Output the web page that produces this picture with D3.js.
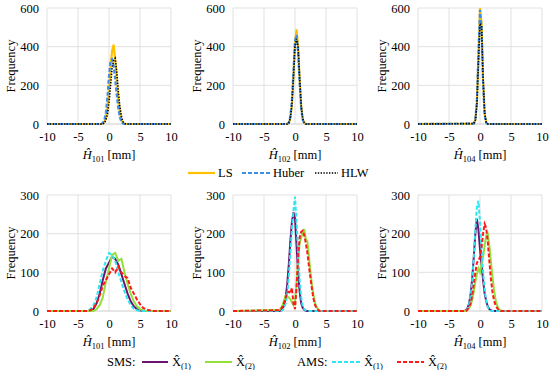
<!DOCTYPE html>
<html>
<head>
<meta charset="utf-8">
<script src="https://cdn.jsdelivr.net/npm/d3@7"></script>
<style>
  body { margin: 0; background: #fff; }
  svg text { font-family: "Liberation Serif", serif; fill: #000; }
</style>
</head>
<body>
<svg id="viz" width="550" height="370"></svg>
<script>
// ---- data ----
const topX1 = [-10,-1.5,-1.25,-1,-0.75,-0.5,-0.25,0,0.25,0.5,0.75,1,1.25,1.5,1.75,2,2.25,2.5,2.75,10]
const topLS1    = [0,0,0,2,10,30,80,170,290,380,410,330,230,130,60,20,5,0,0,0]
const topHuber1 = [0,0,0,5,20,60,140,250,330,335,300,230,150,80,35,10,2,0,0,0]
const topHLW1   = [0,0,0,0,5,20,50,110,200,290,330,340,270,170,90,40,12,3,0,0]

const topX2 = [-10,-1.25,-1,-0.75,-0.5,-0.25,0,0.25,0.5,0.75,1,1.25,1.5,1.75,10]
const topLS2    = [0,0,5,30,100,250,420,490,400,230,90,25,5,0,0]
const topHuber2 = [0,0,8,40,120,270,430,460,370,210,80,20,4,0,0]
const topHLW2   = [0,0,5,30,100,240,400,440,400,240,95,28,6,0,0]

const topX3 = [-10,-1,-0.75,-0.5,-0.25,0,0.25,0.5,0.75,1,1.25,10]
const topLS3    = [0,2,20,110,350,600,520,220,50,8,0,0]
const topHuber3 = [0,2,25,120,370,590,500,210,45,6,0,0]
const topHLW3   = [0,2,20,100,320,520,510,240,60,10,0,0]

const botX1 = [-10,-3.5,-3,-2.5,-2,-1.5,-1,-0.5,0,0.5,1,1.5,2,2.5,3,3.5,4,4.5,5,5.5,6,6.5,7,10]
const smsA1 = [0,0,0,5,20,45,80,110,125,140,135,120,95,70,45,25,12,5,2,0,0,0,0,0]
const smsB1 = [0,0,0,0,5,15,35,75,110,145,150,130,135,100,70,45,25,12,5,2,0,0,0,0]
const amsA1 = [0,0,5,15,35,70,105,130,150,145,130,100,75,50,30,15,6,2,0,0,0,0,0,0]
const amsB1 = [0,0,2,8,20,40,65,80,95,110,100,115,100,90,85,60,45,30,18,8,4,2,0,0]

const botX2 = [-10,-2.5,-2.25,-2,-1.75,-1.5,-1.25,-1,-0.75,-0.5,-0.25,0,0.25,0.5,0.75,1,1.25,1.5,1.75,2,2.25,2.5,2.75,3,3.25,3.5,3.75,4,10]
const smsA2 = [0,0,2,6,15,35,70,120,180,230,255,240,170,100,50,20,8,3,0,0,0,0,0,0,0,0,0,0,0]
const smsB2 = [0,3,8,15,28,40,38,35,30,22,15,25,70,130,175,190,200,212,185,180,140,100,65,40,20,10,4,0,0]
const amsA2 = [0,0,0,2,8,20,45,90,150,210,260,295,230,150,80,35,12,4,1,0,0,0,0,0,0,0,0,0,0]
const amsB2 = [0,2,5,12,22,35,48,50,45,60,20,5,60,140,190,205,208,195,175,150,115,85,55,30,15,6,2,0,0]

const botX3 = botX2
const smsA3 = [0,0,2,8,20,45,85,140,200,238,210,160,120,80,45,25,12,5,2,0,0,0,0,0,0,0,0,0,0]
const smsB3 = [0,0,0,3,8,15,30,50,75,95,110,100,120,140,170,195,200,170,130,90,55,30,15,6,2,0,0,0,0]
const amsA3 = [0,0,2,6,18,40,80,140,210,270,285,230,160,100,55,25,10,4,1,0,0,0,0,0,0,0,0,0,0]
const amsB3 = [0,0,0,4,10,20,40,70,100,125,130,140,165,200,225,215,180,130,85,50,28,15,8,3,1,0,0,0,0]

const xTicks = [-10,-5,0,5,10]
const topYTicks = [0,200,400,600]
const botYTicks = [0,100,200,300]
const subs = ["101","102","104"]

const topStyles = [
  {name: "LS", color: "#FFC000", dash: null, w: 2.2},
  {name: "Huber", color: "#3D8FE6", dash: "4,2", w: 2.2},
  {name: "HLW", color: "#000", dash: "1.4,1.4", w: 1.6}
]
const botStyles = [
  {color: "#6B1470", dash: null, w: 2},
  {color: "#92E03C", dash: null, w: 2},
  {color: "#2EE6F0", dash: "4,2", w: 2},
  {color: "#FF1A1A", dash: "4,2", w: 2}
]

const svg = d3.select("svg#viz")
const lefts = [47, 233, 418]
const PW = 124, PH = 116

function panel(left, top, xs, series, styles, yTicks, sub) {
  const g = svg.append("g").attr("transform", `translate(${left},${top})`)
  const x = d3.scaleLinear().domain([-10, 10]).range([0, PW])
  const y = d3.scaleLinear().domain([0, yTicks[yTicks.length - 1]]).range([PH, 0])

  // grid
  g.append("g").selectAll("line.vg").data(xTicks).join("line")
    .attr("x1", d => x(d)).attr("x2", d => x(d)).attr("y1", 0).attr("y2", PH)
    .attr("stroke", "#d9d9d9").attr("stroke-width", 0.8)
  g.append("g").selectAll("line.hg").data(yTicks).join("line")
    .attr("x1", 0).attr("x2", PW).attr("y1", d => y(d)).attr("y2", d => y(d))
    .attr("stroke", d => d === 0 ? "#bfbfbf" : "#d9d9d9").attr("stroke-width", 0.8)

  const xa = g.append("g").attr("transform", `translate(0,${PH})`)
    .call(d3.axisBottom(x).tickValues(xTicks).tickFormat(d => String(d)).tickSize(0).tickPadding(8))
  xa.select(".domain").remove()
  const ya = g.append("g").call(d3.axisLeft(y).tickValues(yTicks).tickFormat(d => String(d)).tickSize(0).tickPadding(8))
  ya.select(".domain").remove()
  g.selectAll(".tick text").attr("font-size", 12.5).attr("font-family", "Liberation Serif")

  g.append("text").attr("transform", `translate(-36,${PH / 2}) rotate(-90)`)
    .attr("text-anchor", "middle").attr("dy", "0.35em").attr("font-size", 12.5).text("Frequency")

  const t = g.append("text").attr("x", PW / 2).attr("y", PH + 35)
    .attr("text-anchor", "middle").attr("font-size", 12.5)
  t.append("tspan").attr("font-style", "italic").text("Ĥ")
  t.append("tspan").attr("font-size", 8.5).attr("dy", 3).text(sub)
  t.append("tspan").attr("dy", -3).text(" [mm]")

  const line = d3.line().x(d => x(d[0])).y(d => y(d[1]))
  series.forEach((s, i) => {
    g.append("path").datum(xs.map((v, k) => [v, s[k]]))
      .attr("d", line).attr("fill", "none")
      .attr("stroke", styles[i].color).attr("stroke-width", styles[i].w)
      .attr("stroke-dasharray", styles[i].dash)
  })
}

const tops = [[topX1, [topLS1, topHuber1, topHLW1]], [topX2, [topLS2, topHuber2, topHLW2]], [topX3, [topLS3, topHuber3, topHLW3]]]
const bots = [[botX1, [smsA1, smsB1, amsA1, amsB1]], [botX2, [smsA2, smsB2, amsA2, amsB2]], [botX3, [smsA3, smsB3, amsA3, amsB3]]]
tops.forEach((p, i) => panel(lefts[i], 8, p[0], p[1], topStyles, topYTicks, subs[i]))
bots.forEach((p, i) => panel(lefts[i], 195, p[0], p[1], botStyles, botYTicks, subs[i]))

// top legend
const lg1 = svg.append("g")
const topLeg = [{x: 188, tx: 218}, {x: 242, tx: 273}, {x: 315, tx: 341}]
topLeg.forEach((p, i) => {
  const s = topStyles[i]
  lg1.append("line").attr("x1", p.x).attr("x2", p.tx - 3).attr("y1", 173).attr("y2", 173)
    .attr("stroke", s.color).attr("stroke-width", s.w).attr("stroke-dasharray", s.dash)
  lg1.append("text").attr("x", p.tx).attr("y", 177).attr("font-size", 12.5).text(s.name)
})

// bottom legend
const lg2 = svg.append("g")
lg2.append("text").attr("x", 107).attr("y", 366).attr("font-size", 12.5).text("SMS:")
lg2.append("text").attr("x", 297).attr("y", 366).attr("font-size", 12.5).text("AMS:")
const botLeg = [{x: 142, tx: 172, k: "1"}, {x: 205, tx: 236, k: "2"}, {x: 332, tx: 364, k: "1"}, {x: 397, tx: 428, k: "2"}]
botLeg.forEach((p, i) => {
  const s = botStyles[i]
  lg2.append("line").attr("x1", p.x).attr("x2", p.tx - 4).attr("y1", 362).attr("y2", 362)
    .attr("stroke", s.color).attr("stroke-width", s.w).attr("stroke-dasharray", s.dash)
  const t = lg2.append("text").attr("x", p.tx).attr("y", 366).attr("font-size", 12.5)
  t.append("tspan").text("X\u0302")
  t.append("tspan").attr("font-size", 8.5).attr("dy", 3).text(`(${p.k})`)
})
</script>
</body>
</html>
